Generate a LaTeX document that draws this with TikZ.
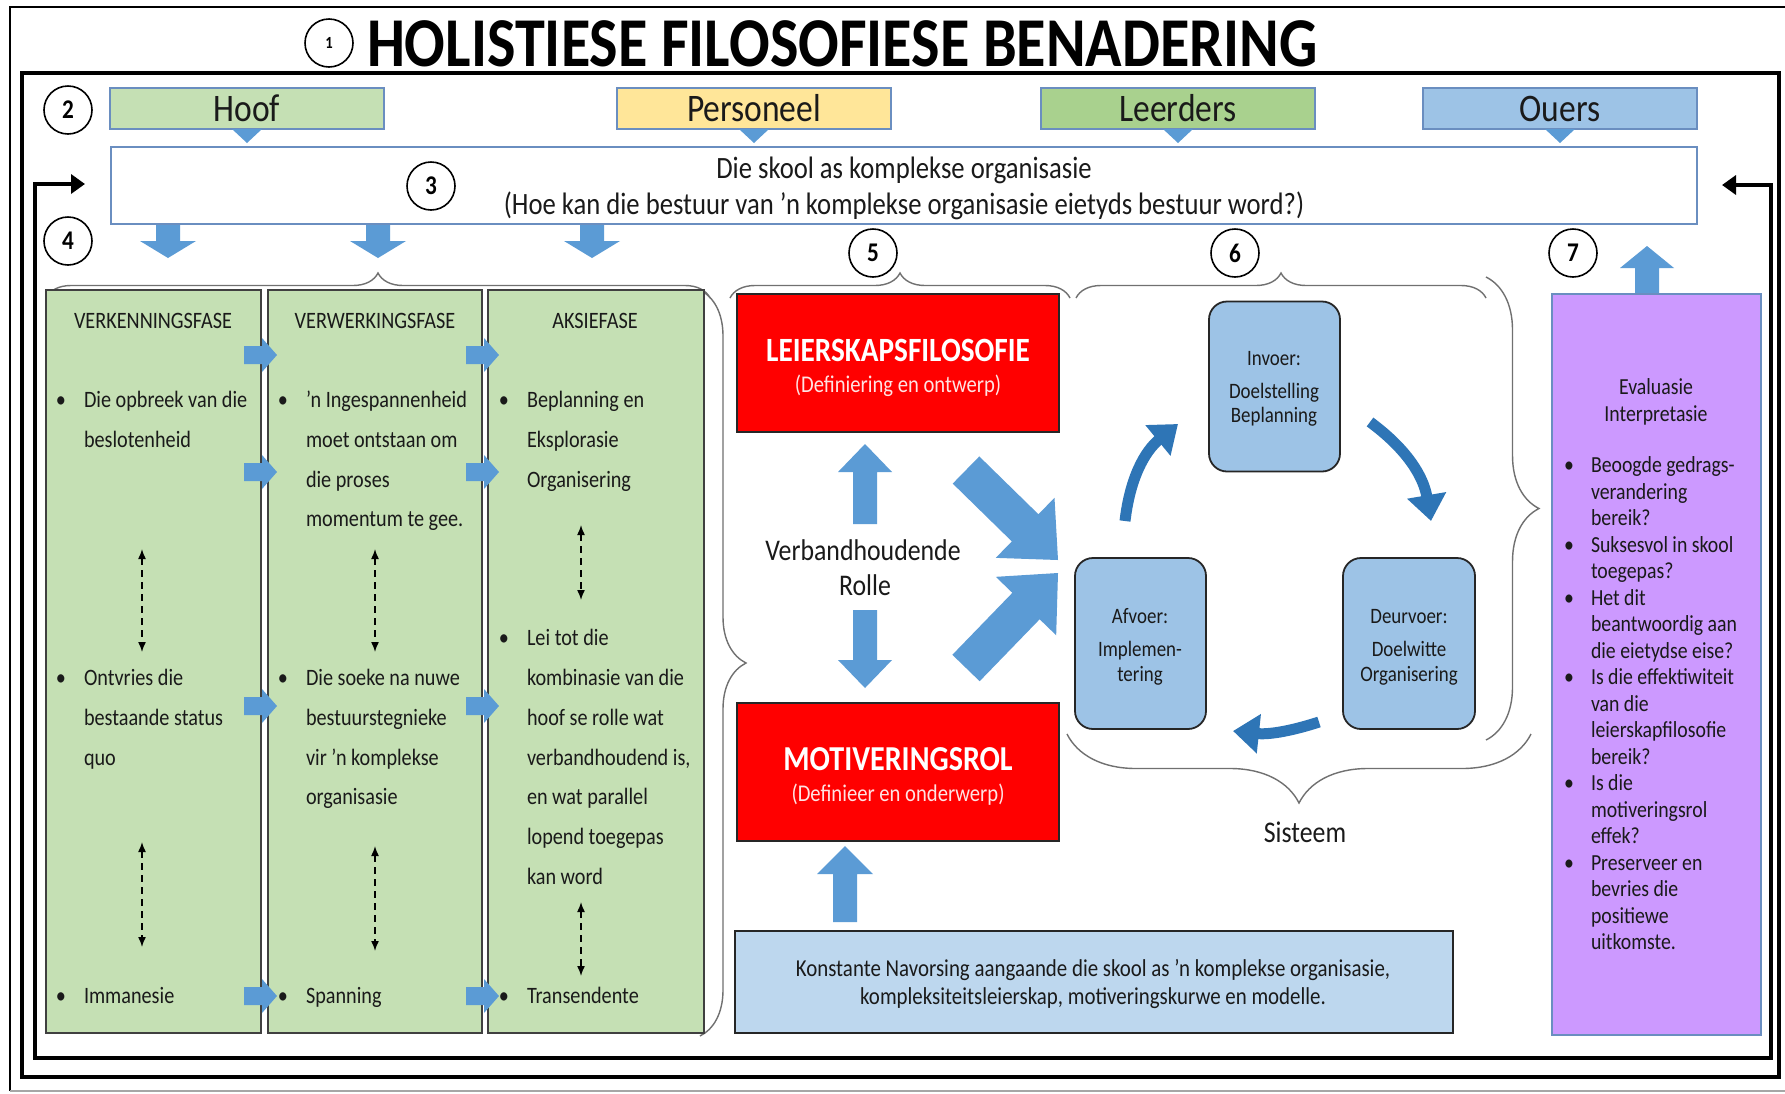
\documentclass[tikz,border=0pt]{standalone}
\usepackage{fontspec}
\setmainfont{Carlito}[FakeStretch=0.86]
\usetikzlibrary{arrows.meta,calc,decorations.pathreplacing}

\definecolor{hoofgreen}{HTML}{C5E0B4}
\definecolor{persyellow}{HTML}{FFE699}
\definecolor{leergreen}{HTML}{A9D18E}
\definecolor{ouersblue}{HTML}{9DC3E6}
\definecolor{edgeblue}{HTML}{6A8EC0}
\definecolor{arrowblue}{HTML}{5B9BD5}
\definecolor{cycleblue}{HTML}{2E75B6}
\definecolor{paleblue}{HTML}{BDD7EE}
\definecolor{lilac}{HTML}{CC99FF}
\definecolor{inkdark}{HTML}{1A1A1A}
\definecolor{bracegray}{HTML}{707070}
\definecolor{pinkwhite}{HTML}{FFE3E3}
\definecolor{pagered}{HTML}{FF0000}

\newcommand\fs[1]{\fontsize{#1}{#1}\selectfont}

% solid block arrow from #1 to #2: shaft half width #3, head half width #4, head length #5
\newcommand\blockarrow[5]{%
  \path ($(#2)!#5!(#1)$) coordinate (ba-base);
  \fill[arrowblue] ($(#1)!#3!90:(#2)$) -- ($(ba-base)!#3!90:(#2)$)
    -- ($(ba-base)!#4!90:(#2)$) -- (#2) -- ($(ba-base)!#4!-90:(#2)$)
    -- ($(ba-base)!#3!-90:(#2)$) -- ($(#1)!#3!-90:(#2)$) -- cycle;}

% one text line in a phase column (row #3 of the column grid)
\newcommand\phaseline[4]{\node[coltext] (#1) at (#2,{407.7+39.7*(#3)}) {#4};}
\newcommand\phasebullet[4]{\node[coltext,anchor=base] (#1-dot) at ({#2-23},{407.7+39.7*(#3)}) {\textbullet};\phaseline{#1}{#2}{#3}{#4}}
% one text line in the evaluation box
\newcommand\evline[3]{\node[evtext] (#1) at (1591,{472.6+26.5*(#2)}) {#3};}
\newcommand\evbullet[3]{\node[evtext,anchor=base] (#1-dot) at (1569,{472.6+26.5*(#2)}) {\textbullet};\evline{#1}{#2}{#3}}

\begin{document}
\begin{tikzpicture}[x=1pt,y=-1pt,
  every node/.style={inner sep=0pt,outer sep=0pt},
  circnum/.style={circle,draw=black,line width=1.6pt,fill=white,minimum size=48pt,font=\fs{27}\bfseries},
  topbox/.style={rectangle,draw=edgeblue,line width=1.2pt,minimum width=274pt,minimum height=41pt,font=\fs{39},text=inkdark},
  phasecol/.style={rectangle,draw=black!75,line width=1.5pt,fill=hoofgreen,anchor=north west,minimum height=743pt},
  coltext/.style={anchor=base west,font=\fs{23.5},text=inkdark},
  evtext/.style={anchor=base west,font=\fs{23},text=inkdark},
  redbox/.style={rectangle,draw=black!85,line width=2pt,fill=pagered,minimum width=322pt,minimum height=138pt},
  cyclebox/.style={rectangle,rounded corners=18pt,draw=black!85,line width=1.8pt,fill=ouersblue,minimum width=131pt,minimum height=170pt},
  celltext/.style={anchor=base,font=\fs{22},text=inkdark},
  bracestyle/.style={draw=bracegray,line width=1.4pt,decorate},
  dashedarrow/.style={line width=1.5pt,dash pattern=on 7pt off 5pt,{Latex[length=10pt,width=8pt]}-{Latex[length=10pt,width=8pt]}},
  cyclearrow/.style={draw=cycleblue,line width=11pt,-{Triangle[length=26pt,width=38pt]}},
  feedback/.style={line width=4pt,{Triangle[length=14pt,width=19pt]}-{Triangle[length=14pt,width=19pt]}}]

\useasboundingbox (0,0) rectangle (1785,1093);
\fill[white] (0,0) rectangle (1785,1093);

% frames
\draw[line width=2.6pt] (10,1091) -- (10,7) -- (1790,7);
\draw[black!35,line width=1.5pt] (10,1091) -- (1785,1091);
\draw[line width=4pt] (22,73) rectangle (1779,1077);

% feedback loop around the whole model
\coordinate (fb-l) at (85,184);
\coordinate (fb-lc) at (35,184);
\coordinate (fb-bl) at (35,1058);
\coordinate (fb-br) at (1771,1058);
\coordinate (fb-rc) at (1771,185);
\coordinate (fb-r) at (1722,185);
\draw[feedback] (fb-l) -- (fb-lc) -- (fb-bl) -- (fb-br) -- (fb-rc) -- (fb-r);

% title
\node[circnum,font=\fs{17}\bfseries] (n1) at (329,43) {1};
\node[anchor=base west,font=\fs{70}\bfseries] (title) at (367,66) {HOLISTIESE FILOSOFIESE BENADERING};

% stakeholders
\node[circnum] (n2) at (68,110) {2};
\node[topbox,fill=hoofgreen] (hoof) at (247,108.5) {Hoof};
\node[topbox,fill=persyellow] (pers) at (754,108.5) {Personeel};
\node[topbox,fill=leergreen] (leer) at (1178,108.5) {Leerders};
\node[topbox,fill=ouersblue] (ouers) at (1560,108.5) {Ouers};
\foreach \b in {hoof,pers,leer,ouers}{
  \fill[arrowblue] ($(\b.south)+(-15,0)$) -- ($(\b.south)+(15,0)$) -- ($(\b.south)+(0,14)$) -- cycle;}

% the school as complex organisation
\node[rectangle,draw=edgeblue,line width=1.5pt,fill=white,minimum width=1586pt,minimum height=77pt] (school) at (904,185.5) {};
\node[anchor=base,font=\fs{31},text=inkdark] (school-a) at (904,178) {Die skool as komplekse organisasie};
\node[anchor=base,font=\fs{31},text=inkdark] (school-b) at (904,214) {(Hoe kan die bestuur van ’n komplekse organisasie eietyds bestuur word?)};
\node[circnum] (n3) at (431,186) {3};
\node[circnum] (n4) at (68,241) {4};
\node[circnum] (n5) at (873,253) {5};
\node[circnum] (n6) at (1235,253) {6};
\node[circnum] (n7) at (1573,253) {7};

\foreach \x [count=\i] in {168,378,592}{
  \coordinate (dn\i-t) at (\x,225);
  \coordinate (dn\i-h) at (\x,258);
  \blockarrow{dn\i-t}{dn\i-h}{12pt}{28pt}{17pt}}

% braces
\coordinate (brc-a) at (46,298); \coordinate (brc-b) at (710,298);
\draw[bracestyle,decoration={brace,amplitude=25pt}] (brc-a) -- (brc-b);
\coordinate (brv-a) at (700,290); \coordinate (brv-b) at (700,1036);
\draw[bracestyle,decoration={brace,amplitude=46pt}] (brv-a) -- (brv-b);
\coordinate (br5-a) at (730,298); \coordinate (br5-b) at (1070,298);
\draw[bracestyle,decoration={brace,amplitude=25pt}] (br5-a) -- (br5-b);
\coordinate (br6-a) at (1076,298); \coordinate (br6-b) at (1486,298);
\draw[bracestyle,decoration={brace,amplitude=25pt}] (br6-a) -- (br6-b);
\coordinate (brr-a) at (1486,277); \coordinate (brr-b) at (1486,740);
\draw[bracestyle,decoration={brace,amplitude=53pt}] (brr-a) -- (brr-b);
\coordinate (brs-a) at (1531,734); \coordinate (brs-b) at (1067,734);
\draw[bracestyle,decoration={brace,amplitude=69pt}] (brs-a) -- (brs-b);

% three phase columns
\node[phasecol,minimum width=215pt] (col1) at (46,290) {};
\node[phasecol,minimum width=214pt] (col2) at (268,290) {};
\node[phasecol,minimum width=216pt] (col3) at (488,290) {};

\node[coltext,anchor=base] (h1) at (153,328) {VERKENNINGSFASE};
\node[coltext,anchor=base] (h2) at (375,328) {VERWERKINGSFASE};
\node[coltext,anchor=base] (h3) at (595,328) {AKSIEFASE};

\phasebullet{a1}{84}{0}{Die opbreek van die}
\phaseline{a2}{84}{1}{beslotenheid}
\phasebullet{a3}{84}{7}{Ontvries die}
\phaseline{a4}{84}{8}{bestaande status}
\phaseline{a5}{84}{9}{quo}
\phasebullet{a6}{84}{15}{Immanesie}

\phasebullet{b1}{306}{0}{’n Ingespannenheid}
\phaseline{b2}{306}{1}{moet ontstaan om}
\phaseline{b3}{306}{2}{die proses}
\phaseline{b4}{306}{3}{momentum te gee.}
\phasebullet{b5}{306}{7}{Die soeke na nuwe}
\phaseline{b6}{306}{8}{bestuurstegnieke}
\phaseline{b7}{306}{9}{vir ’n komplekse}
\phaseline{b8}{306}{10}{organisasie}
\phasebullet{b9}{306}{15}{Spanning}

\phasebullet{c1}{527}{0}{Beplanning en}
\phaseline{c2}{527}{1}{Eksplorasie}
\phaseline{c3}{527}{2}{Organisering}
\phasebullet{c4}{527}{6}{Lei tot die}
\phaseline{c5}{527}{7}{kombinasie van die}
\phaseline{c6}{527}{8}{hoof se rolle wat}
\phaseline{c7}{527}{9}{verbandhoudend is,}
\phaseline{c8}{527}{10}{en wat parallel}
\phaseline{c9}{527}{11}{lopend toegepas}
\phaseline{c10}{527}{12}{kan word}
\phasebullet{c11}{527}{15}{Transendente}

% dashed links inside the columns
\coordinate (d1-t) at (142,549); \coordinate (d1-b) at (142,652);
\coordinate (d2-t) at (142,842); \coordinate (d2-b) at (142,947);
\coordinate (d3-t) at (375,549); \coordinate (d3-b) at (375,652);
\coordinate (d4-t) at (375,846); \coordinate (d4-b) at (375,951);
\coordinate (d5-t) at (581,525); \coordinate (d5-b) at (581,600);
\coordinate (d6-t) at (581,902); \coordinate (d6-b) at (581,976);
\foreach \i in {1,...,6}{\draw[dashedarrow] (d\i-t) -- (d\i-b);}

% arrows between the columns
\foreach \y [count=\i] in {355,472,706,996}{
  \coordinate (ra\i-t) at (244,\y); \coordinate (ra\i-h) at (277,\y);
  \blockarrow{ra\i-t}{ra\i-h}{9pt}{17pt}{15pt}
  \coordinate (rb\i-t) at (466,\y); \coordinate (rb\i-h) at (499,\y);
  \blockarrow{rb\i-t}{rb\i-h}{9pt}{17pt}{15pt}}

% leadership philosophy and motivation role
\node[redbox] (leier) at (898,362.5) {};
\node[anchor=base,font=\fs{34}\bfseries,text=white] (leier-a) at (898,361.5) {LEIERSKAPSFILOSOFIE};
\node[anchor=base,font=\fs{24},text=pinkwhite] (leier-b) at (898,392) {(Definiering en ontwerp)};
\node[redbox] (motiv) at (898,771.5) {};
\node[anchor=base,font=\fs{35}\bfseries,text=white] (motiv-a) at (898,770) {MOTIVERINGSROL};
\node[anchor=base,font=\fs{24},text=pinkwhite] (motiv-b) at (898,801) {(Definieer en onderwerp)};
\node[anchor=base,font=\fs{30},text=inkdark] (verb-a) at (863,560) {Verbandhoudende};
\node[anchor=base,font=\fs{30},text=inkdark] (verb-b) at (865,595) {Rolle};

\coordinate (up1-t) at (865,524); \coordinate (up1-h) at (865,444);
\blockarrow{up1-t}{up1-h}{12pt}{27pt}{28pt}
\coordinate (dw1-t) at (865,610); \coordinate (dw1-h) at (865,688);
\blockarrow{dw1-t}{dw1-h}{12pt}{27pt}{28pt}
\coordinate (up2-t) at (845,922); \coordinate (up2-h) at (845,846);
\blockarrow{up2-t}{up2-h}{12pt}{28pt}{28pt}
\coordinate (dg1-t) at (966,470); \coordinate (dg1-h) at (1058,560);
\blockarrow{dg1-t}{dg1-h}{19pt}{42pt}{46pt}
\coordinate (dg2-t) at (966,668); \coordinate (dg2-h) at (1058,573);
\blockarrow{dg2-t}{dg2-h}{19pt}{42pt}{46pt}

% research base
\node[rectangle,draw=black!85,line width=2pt,fill=paleblue,minimum width=718pt,minimum height=102pt] (navors) at (1094,982) {};
\node[anchor=base,font=\fs{24.3},text=inkdark] (navors-a) at (1093,976) {Konstante Navorsing aangaande die skool as ’n komplekse organisasie,};
\node[anchor=base,font=\fs{24.3},text=inkdark] (navors-b) at (1093,1004) {kompleksiteitsleierskap, motiveringskurwe en modelle.};

% system cycle
\node[cyclebox] (invoer) at (1274.5,386.5) {};
\node[cyclebox,minimum height=171pt] (afvoer) at (1140.5,643.5) {};
\node[cyclebox,minimum height=171pt,minimum width=132pt] (deurvoer) at (1409,643.5) {};
\node[celltext] (inv-a) at (1274,365.5) {Invoer:};
\node[celltext] (inv-b) at (1274,398.5) {Doelstelling};
\node[celltext] (inv-c) at (1274,422.5) {Beplanning};
\node[celltext] (afv-a) at (1140,623) {Afvoer:};
\node[celltext] (afv-b) at (1140,656) {Implemen-};
\node[celltext] (afv-c) at (1140,681) {tering};
\node[celltext] (deu-a) at (1409,623) {Deurvoer:};
\node[celltext] (deu-b) at (1409,656) {Doelwitte};
\node[celltext] (deu-c) at (1409,681) {Organisering};

\coordinate (cy1-s) at (1125,521); \coordinate (cy1-e) at (1178,424);
\draw[cyclearrow] (cy1-s) to[bend left=22] (cy1-e);
\coordinate (cy2-s) at (1370,422); \coordinate (cy2-e) at (1431,521);
\draw[cyclearrow] (cy2-s) to[bend left=22] (cy2-e);
\coordinate (cy3-s) at (1319,722); \coordinate (cy3-e) at (1233,731);
\draw[cyclearrow] (cy3-s) to[bend left=12] (cy3-e);

\node[anchor=base,font=\fs{30},text=inkdark] (sisteem) at (1305,842) {Sisteem};

% evaluation
\coordinate (ev-t) at (1647,294); \coordinate (ev-h) at (1647,246);
\blockarrow{ev-t}{ev-h}{12pt}{27pt}{22pt}
\node[rectangle,draw=edgeblue,line width=1.5pt,fill=lilac,minimum width=209pt,minimum height=741pt] (evalbox) at (1656.5,664.5) {};
\node[anchor=base,font=\fs{23},text=inkdark] (ev-a) at (1656,394) {Evaluasie};
\node[anchor=base,font=\fs{23},text=inkdark] (ev-b) at (1656,421) {Interpretasie};
\evbullet{e0}{0}{Beoogde gedrags-}
\evline{e1}{1}{verandering}
\evline{e2}{2}{bereik?}
\evbullet{e3}{3}{Suksesvol in skool}
\evline{e4}{4}{toegepas?}
\evbullet{e5}{5}{Het dit}
\evline{e6}{6}{beantwoordig aan}
\evline{e7}{7}{die eietydse eise?}
\evbullet{e8}{8}{Is die effektiwiteit}
\evline{e9}{9}{van die}
\evline{e10}{10}{leierskapfilosofie}
\evline{e11}{11}{bereik?}
\evbullet{e12}{12}{Is die}
\evline{e13}{13}{motiveringsrol}
\evline{e14}{14}{effek?}
\evbullet{e15}{15}{Preserveer en}
\evline{e16}{16}{bevries die}
\evline{e17}{17}{positiewe}
\evline{e18}{18}{uitkomste.}
\end{tikzpicture}
\end{document}
